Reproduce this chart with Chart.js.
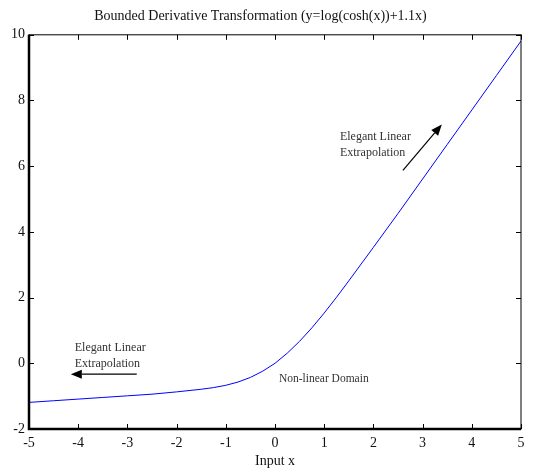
<!DOCTYPE html>
<html>
<head>
<meta charset="utf-8">
<script src="https://cdn.jsdelivr.net/npm/chart.js@4"></script>
<style>
  html, body { margin: 0; padding: 0; background: #fff; }
  #wrap { width: 533px; height: 471px; }
</style>
</head>
<body>
<div id="wrap"><canvas id="chart"></canvas></div>
<script>
// values
const xValues = [-5, -4.5, -4, -3.5, -3, -2.5, -2, -1.5, -1.25, -1, -0.75, -0.5, -0.25, 0,
                 0.25, 0.5, 0.75, 1, 1.25, 1.5, 2, 2.5, 3, 3.5, 4, 4.5, 5];
const yValues = [-1.19, -1.14, -1.09, -1.04, -0.99, -0.94, -0.87, -0.79, -0.74, -0.67, -0.57, -0.43, -0.24, 0.00,
                 0.31, 0.67, 1.08, 1.53, 2.01, 2.51, 3.53, 4.56, 5.61, 6.66, 7.71, 8.76, 9.81];
const xTicks = [-5, -4, -3, -2, -1, 0, 1, 2, 3, 4, 5];
const yTicks = [-2, 0, 2, 4, 6, 8, 10];

const SERIF = '"Liberation Serif", "Times New Roman", serif';

// text labels and arrows, in data coordinates
const notes = [
    { lines: ['Elegant Linear', 'Extrapolation'], x: -4.07, y: 0.47, size: 12 },
    { lines: ['Elegant Linear', 'Extrapolation'], x: 1.32, y: 6.89, size: 12 },
    { lines: ['Non-linear Domain'], x: 0.08, y: -0.48, size: 11.5 }
];
const arrows = [
    { from: [-2.81, -0.33], to: [-4.15, -0.33] },
    { from: [2.6, 5.87], to: [3.39, 7.27] }
];

const framePlugin = {
    id: 'frame',
    afterDraw(chart) {
        const ctx = chart.ctx;
        const a = chart.chartArea;
        const xs = chart.scales.x, ys = chart.scales.y;
        ctx.save();
        ctx.strokeStyle = '#000';

        // box
        ctx.lineWidth = 1;
        ctx.strokeRect(a.left, a.top, a.right - a.left, a.bottom - a.top);
        ctx.lineWidth = 2.5;
        ctx.beginPath();
        ctx.moveTo(a.left, a.top);
        ctx.lineTo(a.left, a.bottom);
        ctx.lineTo(a.right, a.bottom);
        ctx.stroke();

        // inward ticks
        ctx.lineWidth = 1;
        ctx.beginPath();
        xTicks.forEach(v => {
            const px = Math.round(xs.getPixelForValue(v)) + 0.5;
            ctx.moveTo(px, a.bottom); ctx.lineTo(px, a.bottom - 5);
            ctx.moveTo(px, a.top); ctx.lineTo(px, a.top + 5);
        });
        yTicks.forEach(v => {
            const py = Math.round(ys.getPixelForValue(v)) + 0.5;
            ctx.moveTo(a.left, py); ctx.lineTo(a.left + 5, py);
            ctx.moveTo(a.right, py); ctx.lineTo(a.right - 5, py);
        });
        ctx.stroke();

        // notes
        ctx.fillStyle = '#333';
        ctx.textAlign = 'left';
        ctx.textBaseline = 'middle';
        notes.forEach(n => {
            ctx.font = n.size + 'px ' + SERIF;
            const px = xs.getPixelForValue(n.x);
            const py = ys.getPixelForValue(n.y);
            n.lines.forEach((t, i) => ctx.fillText(t, px, py + i * 16));
        });

        // arrows
        ctx.fillStyle = '#000';
        arrows.forEach(ar => {
            const x0 = xs.getPixelForValue(ar.from[0]), y0 = ys.getPixelForValue(ar.from[1]);
            const x1 = xs.getPixelForValue(ar.to[0]), y1 = ys.getPixelForValue(ar.to[1]);
            const ang = Math.atan2(y1 - y0, x1 - x0);
            const head = 11, half = 4.5;
            const bx = x1 - head * Math.cos(ang), by = y1 - head * Math.sin(ang);
            ctx.lineWidth = 1.2;
            ctx.beginPath();
            ctx.moveTo(x0, y0);
            ctx.lineTo(bx, by);
            ctx.stroke();
            ctx.beginPath();
            ctx.moveTo(x1, y1);
            ctx.lineTo(bx - half * Math.sin(ang), by + half * Math.cos(ang));
            ctx.lineTo(bx + half * Math.sin(ang), by - half * Math.cos(ang));
            ctx.closePath();
            ctx.fill();
        });
        ctx.restore();
    }
};

new Chart(document.getElementById('chart'), {
    type: 'line',
    data: {
        datasets: [{
            data: xValues.map((x, i) => ({ x: x, y: yValues[i] })),
            borderColor: '#0000ff',
            borderWidth: 1,
            pointRadius: 0,
            tension: 0,
            fill: false
        }]
    },
    options: {
        responsive: true,
        maintainAspectRatio: false,
        animation: false,
        layout: { padding: { left: 0, right: 12, top: 0, bottom: 0 } },
        plugins: {
            legend: { display: false },
            tooltip: { enabled: false },
            title: {
                display: true,
                text: 'Bounded Derivative Transformation (y=log(cosh(x))+1.1x)',
                color: '#111',
                font: { family: SERIF, size: 14, weight: 'normal' },
                padding: { top: 8, bottom: 10 }
            }
        },
        scales: {
            x: {
                type: 'linear',
                min: -5,
                max: 5,
                afterBuildTicks: s => { s.ticks = xTicks.map(v => ({ value: v })); },
                afterFit: s => { s.height = 42; },
                grid: { display: false, drawTicks: false },
                border: { display: false },
                ticks: {
                    color: '#111',
                    padding: 6,
                    font: { family: SERIF, size: 14 }
                },
                title: {
                    display: true,
                    text: 'Input x',
                    color: '#111',
                    font: { family: SERIF, size: 14 },
                    padding: { top: 0, bottom: 1 }
                }
            },
            y: {
                type: 'linear',
                min: -2,
                max: 10,
                afterBuildTicks: s => { s.ticks = yTicks.map(v => ({ value: v })); },
                afterFit: s => { s.width = 29; },
                grid: { display: false, drawTicks: false },
                border: { display: false },
                ticks: {
                    color: '#111',
                    padding: 4,
                    font: { family: SERIF, size: 14 }
                }
            }
        }
    },
    plugins: [framePlugin]
});
</script>
</body>
</html>
